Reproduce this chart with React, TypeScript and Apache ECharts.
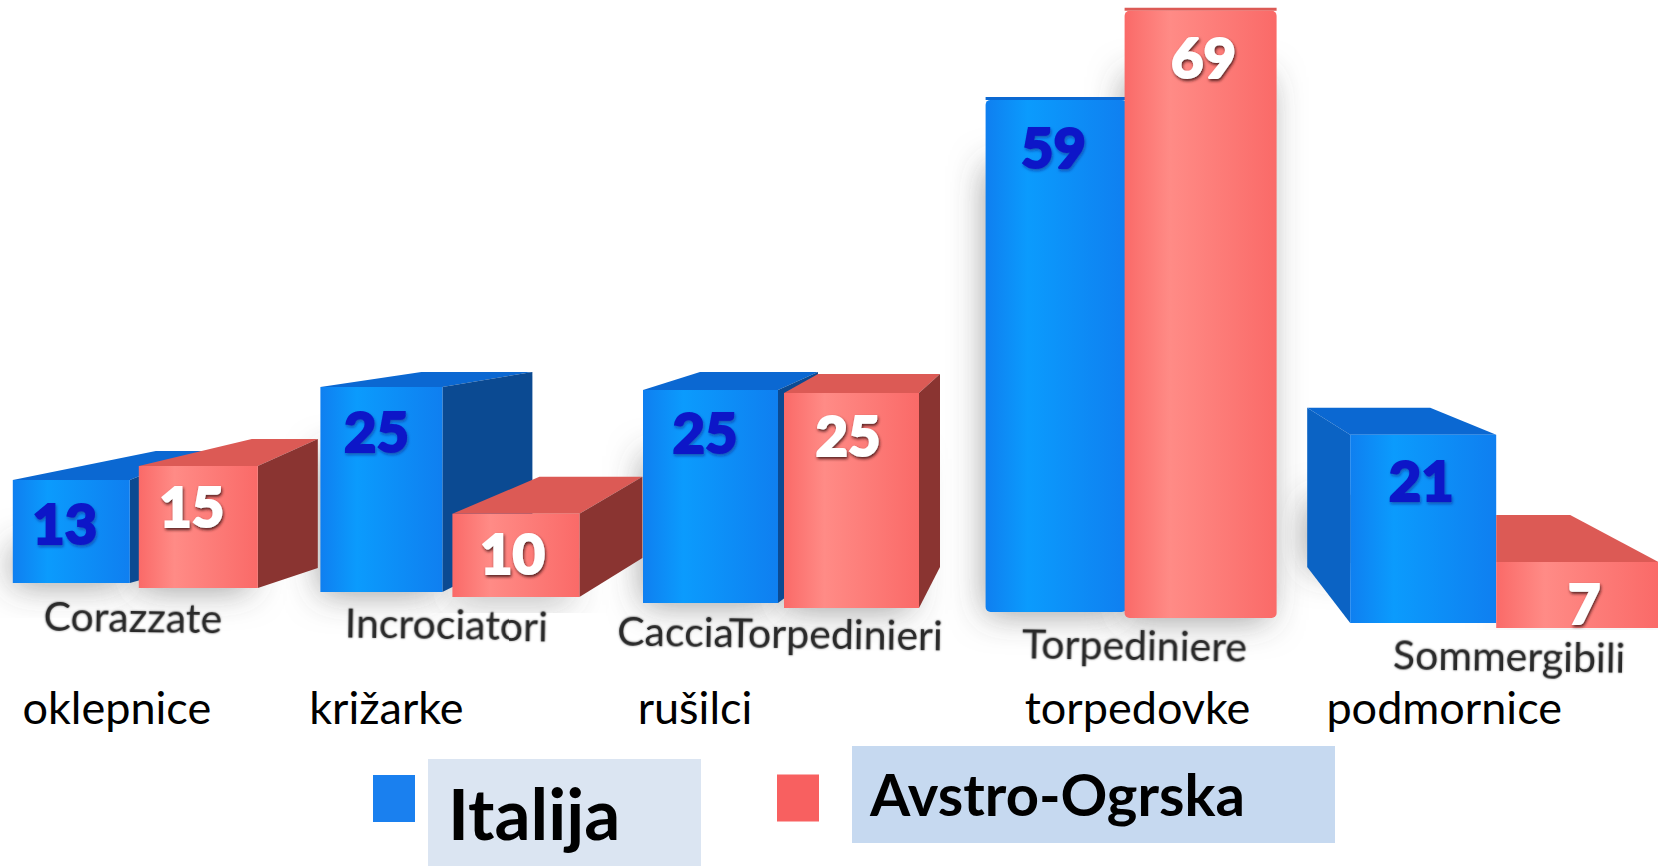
import React, { useEffect, useRef } from "react";
import * as echarts from "echarts";

const categories = ["Corazzate", "Incrociatori", "CacciaTorpedinieri", "Torpediniere", "Sommergibili"];
const slovene = ["oklepnice", "križarke", "rušilci", "torpedovke", "podmornice"];
const italija = [13, 25, 25, 59, 21];
const avstroOgrska = [15, 10, 25, 69, 7];
const seriesNames = ["Italija", "Avstro-Ogrska"];

// Hand-fitted pseudo-3D view of each bar (no data here): offset from band centre, front width,
// baseline lift, perspective factor, depth of left/right edges, depth up, depth of the lower side corner, label offset
type View = { off: number; w: number; lift: number; k: number; dl: number; dr: number; dy: number; db: number; lx: number; ly: number };
const blueView: View[] = [
  { off: -153, w: 117, lift: 57, k: 0.99, dl: 143, dr: 72, dy: 29, db: 20, lx: 52, ly: 42 },
  { off: -177, w: 122, lift: 48, k: 1.025, dl: 101, dr: 90, dy: 15, db: 45, lx: 56, ly: 43 },
  { off: -186, w: 135, lift: 37, k: 1.065, dl: 57, dr: 40, dy: 18, db: 30, lx: 62, ly: 41 },
  { off: -175, w: 141, lift: 28, k: 1.085, dl: 0, dr: 0, dy: 3, db: 0, lx: 68, ly: 47 },
  { off: -142, w: 146, lift: 17, k: 1.12, dl: -43, dr: -66, dy: 27, db: 56, lx: 71, ly: 45 },
];
const redView: View[] = [
  { off: -27, w: 119, lift: 52, k: 1.017, dl: 113, dr: 60, dy: 27, db: 20, lx: 53, ly: 40 },
  { off: -45, w: 127, lift: 43, k: 1.04, dl: 87, dr: 63, dy: 37, db: 39, lx: 60, ly: 39 },
  { off: -45, w: 135, lift: 32, k: 1.075, dl: 34, dr: 21, dy: 19, db: 41, lx: 64, ly: 41 },
  { off: -36, w: 152, lift: 22, k: 1.1, dl: 0, dr: 0, dy: 3, db: 0, lx: 79, ly: 46 },
  { off: 4, w: 162, lift: 12, k: 1.18, dl: 0, dr: -88, dy: 47, db: 0, lx: 88, ly: 41 },
];
const italianLabelPos = [
  { dx: -33, y: 616 }, { dx: -51, y: 624 }, { dx: -49, y: 632 }, { dx: -26, y: 644 }, { dx: 17, y: 655 },
];
const sloveneLabelDx = [-49, -111, -134, -23, -48];

const grad = (a: string, b: string) =>
  new echarts.graphic.LinearGradient(0, 0, 1, 0, [
    { offset: 0, color: a },
    { offset: 0.3, color: b },
    { offset: 1, color: a },
  ]);

const makeBarRender = (views: View[], palette: any) => (params: any, api: any) => {
  const i = params.dataIndex;
  const v = api.value(1);
  const g = views[i];
  const base = api.coord([i, 0]);
  const x0 = base[0] + g.off;
  const x1 = x0 + g.w;
  const yB = base[1] - g.lift;
  const yT = yB - api.size([0, v])[1] * g.k;
  const yBack = yT - g.dy;
  const children: any[] = [];
  // top face
  if (g.dy > 0) {
    children.push({
      type: "polygon",
      shape: { points: [[x0, yT], [x0 + g.dl, yBack], [x1 + g.dr, yBack], [x1, yT]] },
      style: { fill: palette.top },
    });
  }
  // right side face
  if (g.dr > 0) {
    children.push({
      type: "polygon",
      shape: { points: [[x1, yT], [x1 + g.dr, yBack], [x1 + g.dr, yB - g.db], [x1, yB]] },
      style: { fill: palette.side },
    });
  }
  // left side face (bars seen from the other side)
  if (g.dl < 0) {
    children.push({
      type: "polygon",
      shape: { points: [[x0, yT], [x0 + g.dl, yBack], [x0 + g.dl, yB - g.db], [x0, yB]] },
      style: { fill: palette.leftSide },
    });
  }
  // front face
  children.push({
    type: "rect",
    shape: { x: x0, y: yT, width: g.w, height: yB - yT, r: g.dy < 5 ? 5 : 0 },
    style: { fill: palette.front },
  });
  // value
  children.push({
    type: "text",
    style: {
      text: String(v),
      x: x0 + g.lx,
      y: yT + g.ly,
      align: "center",
      verticalAlign: "middle",
      fontFamily: "Lato",
      fontWeight: 900,
      fontSize: 56,
      fill: palette.text,
      stroke: palette.text,
      lineWidth: 2,
      textShadowColor: palette.textShadow,
      textShadowBlur: 3,
      textShadowOffsetX: 1,
      textShadowOffsetY: 2,
    },
  });
  return { type: "group", children };
};

const makeShadowRender = (views: View[]) => (params: any, api: any) => {
  const i = params.dataIndex;
  const g = views[i];
  const base = api.coord([i, 0]);
  const x0 = base[0] + g.off + Math.min(g.dl, 0);
  const yB = base[1] - g.lift - (g.dl < 0 ? g.db : 0);
  const yT = base[1] - g.lift - api.size([0, api.value(1)])[1] * g.k;
  return {
    type: "rect",
    shape: { x: x0 + 4, y: yT + 60, width: g.w - 8, height: Math.max(yB - yT - 64, 4) },
    style: { fill: "rgba(150,150,150,0.9)", shadowBlur: 34, shadowColor: "rgba(70,70,70,0.6)", shadowOffsetX: -4, shadowOffsetY: 6 },
  };
};

const renderLabels = (params: any, api: any) => {
  const i = params.dataIndex;
  const base = api.coord([i, 0]);
  return {
    type: "group",
    children: [
      {
        type: "text",
        x: base[0] + italianLabelPos[i].dx,
        y: italianLabelPos[i].y,
        rotation: -0.015,
        style: {
          text: categories[i],
          align: "center",
          verticalAlign: "middle",
          fontFamily: "Lato",
          fontSize: 41,
          fill: "#2a2a2a",
          textShadowColor: "rgba(0,0,0,0.45)",
          textShadowBlur: 2,
        },
      },
      {
        type: "text",
        style: {
          text: slovene[i],
          x: base[0] + sloveneLabelDx[i],
          y: 707,
          align: "center",
          verticalAlign: "middle",
          fontFamily: "Lato",
          fontSize: 45,
          fill: "#000000",
        },
      },
    ],
  };
};

export default function App() {
  const ref = useRef<HTMLDivElement>(null);
  useEffect(() => {
    document.body.style.margin = "0";
    const chart = echarts.init(ref.current!, undefined, { renderer: "svg" });
    const blue = {
      top: "#0b68d2",
      side: "#0b4a92",
      leftSide: "#0b63c4",
      front: grad("#0f7ff0", "#0b9bfd"),
      text: "#0a14c8",
      textShadow: "rgba(10,20,120,0.5)",
    };
    const red = {
      top: "#dc5a55",
      side: "#8a3431",
      leftSide: "#8a3431",
      front: grad("#fa6a68", "#ff8b86"),
      text: "#ffffff",
      textShadow: "rgba(70,20,20,0.9)",
    };
    const toData = (a: number[]) => a.map((v, i) => [i, v]);
    const legendText = { fontFamily: "Lato", fontWeight: 700, color: "#000" };
    chart.setOption({
      animation: false,
      backgroundColor: "#ffffff",
      grid: { left: 0, right: 0, top: 0, height: 640 },
      xAxis: { type: "category", data: categories, show: false },
      yAxis: { type: "value", min: 0, max: 80, interval: 20, show: false },
      legend: [
        {
          data: [seriesNames[0]],
          left: 368,
          top: 744,
          itemWidth: 42,
          itemHeight: 47,
          icon: "rect",
          formatter: (n: string) => "\n" + n,
          textStyle: { ...legendText, fontSize: 71, lineHeight: 28, padding: [0, 0, 0, 28] },
        },
        {
          data: [seriesNames[1]],
          left: 772,
          top: 759,
          itemWidth: 42,
          itemHeight: 47,
          icon: "rect",
          formatter: (n: string) => n + "\n",
          textStyle: { ...legendText, fontSize: 58, lineHeight: 10, padding: [0, 0, 0, 46] },
        },
      ],
      graphic: [
        { type: "rect", z: 0, shape: { x: 428, y: 759, width: 273, height: 107 }, style: { fill: "#dbe5f2" } },
        { type: "rect", z: 0, shape: { x: 852, y: 746, width: 483, height: 97 }, style: { fill: "#c6d9f0" } },
      ],
      series: [
        { type: "custom", name: "shadowA", z: 1, silent: true, clip: false, data: toData(italija), encode: { x: 0, y: 1 }, renderItem: makeShadowRender(blueView) },
        { type: "custom", name: "shadowB", z: 1, silent: true, clip: false, data: toData(avstroOgrska), encode: { x: 0, y: 1 }, renderItem: makeShadowRender(redView) },
        { type: "custom", name: seriesNames[0], z: 2, clip: false, itemStyle: { color: "#1a80ef" }, data: toData(italija), encode: { x: 0, y: 1 }, renderItem: makeBarRender(blueView, blue) },
        { type: "custom", name: seriesNames[1], z: 3, clip: false, itemStyle: { color: "#f86060" }, data: toData(avstroOgrska), encode: { x: 0, y: 1 }, renderItem: makeBarRender(redView, red) },
        { type: "custom", name: "labels", z: 4, silent: true, clip: false, data: toData(italija), encode: { x: 0, y: 1 }, renderItem: renderLabels },
      ],
    });
    return () => chart.dispose();
  }, []);
  return <div ref={ref} style={{ width: 1658, height: 866 }} />;
}
